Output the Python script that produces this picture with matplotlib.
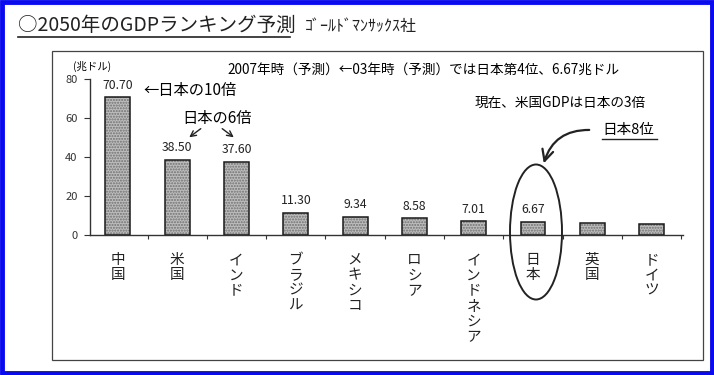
import numpy as np
import matplotlib
matplotlib.use('Agg')
import matplotlib.pyplot as plt
from matplotlib.patches import Ellipse, Rectangle
from matplotlib.lines import Line2D

plt.rcParams['font.family'] = ['Noto Sans CJK JP', 'DejaVu Sans']

# data (Goldman Sachs 2050 GDP projection, trillion USD)
countries = ['中国', '米国', 'インド', 'ブラジル', 'メキシコ', 'ロシア',
             'インドネシア', '日本', '英国', 'ドイツ']
gdp_2050 = [70.70, 38.50, 37.60, 11.30, 9.34, 8.58, 7.01, 6.67, 5.97, 5.71]
value_labels = ['70.70', '38.50', '37.60', '11.30', '9.34', '8.58',
                '7.01', '6.67', '', '']
yticks = [0, 20, 40, 60, 80]

W, H = 714, 375
def fx(x): return x / W          # pixel -> figure fraction
def fy(y): return 1 - y / H

fig = plt.figure(figsize=(W/100, H/100), dpi=100)
fig.patch.set_facecolor('white')

# blue outer frame + grey inner box
fig.add_artist(Rectangle((0.003, 0.005), 0.994, 0.99, transform=fig.transFigure,
                         fill=False, edgecolor='#0a0af0', linewidth=3.5))
fig.add_artist(Rectangle((fx(52), fy(360)), fx(703)-fx(52), fy(51)-fy(360),
                         transform=fig.transFigure, fill=False,
                         edgecolor='#444444', linewidth=0.9))

ax = fig.add_axes([fx(90), fy(235), fx(683)-fx(90), fy(79)-fy(235)])
x = np.arange(len(countries))
ax.bar(x, gdp_2050, width=0.42, color='#bdbdbd', hatch='......',
       edgecolor='#707070', linewidth=0)
ax.bar(x, gdp_2050, width=0.42, fill=False, edgecolor='#1a1a1a', linewidth=1.1)

for xi, v, lab in zip(x, gdp_2050, value_labels):
    ax.annotate(lab, (xi, v), xytext=(0, 4), textcoords='offset points',
                ha='center', va='bottom', fontsize=8.8, color='#222222')

ax.set_xlim(-0.47, 9.53)
ax.set_ylim(0, 80)
for s in ['top', 'right']:
    ax.spines[s].set_visible(False)
for s in ['left', 'bottom']:
    ax.spines[s].set_color('#333333')
    ax.spines[s].set_linewidth(1.0)

ax.set_yticks(yticks)
ax.tick_params(axis='y', direction='out', length=4, width=0.8, labelsize=8,
               pad=5, colors='#333333')
ax.set_xticks(x)
ax.set_xticklabels(['\n'.join(c) for c in countries])
ax.tick_params(axis='x', which='major', length=0, pad=13, labelsize=10.5,
               labelcolor='#222222')
ax.set_xticks(np.arange(0.5, 9.6, 1), minor=True)
ax.tick_params(axis='x', which='minor', direction='out', length=3, width=0.8,
               color='#333333')
for lbl in ax.get_xticklabels():
    lbl.set_linespacing(1.12)
ax.set_facecolor('none')

# title
fig.text(fx(18), fy(25), '○2050年のGDPランキング予測', ha='left', va='center',
         fontsize=14, color='#222222')
fig.add_artist(Line2D([fx(18), fx(290)], [fy(37), fy(37)], color='#222222', lw=1.2))
fig.text(fx(305), fy(27), 'ｺﾞｰﾙﾄﾞﾏﾝｻｯｸｽ社', ha='left', va='center',
         fontsize=11.5, color='#222222')

# annotations
fig.text(fx(92), fy(66), '(兆ドル)', ha='center', va='center', fontsize=7.5)
fig.text(fx(227), fy(70), '2007年時（予測）←03年時（予測）では日本第4位、6.67兆ドル',
         ha='left', va='center', fontsize=9.8)
fig.text(fx(143), fy(90), '←日本の10倍', ha='left', va='center', fontsize=11)
fig.text(fx(182), fy(119), '日本の6倍', ha='left', va='center', fontsize=11)
fig.text(fx(475), fy(103), '現在、米国GDPは日本の3倍', ha='left', va='center',
         fontsize=9.8)
fig.text(fx(602), fy(130), '日本8位', ha='left', va='center', fontsize=10.5)
fig.add_artist(Line2D([fx(602), fx(657)], [fy(139), fy(139)], color='#222222', lw=1.0))

arrow = dict(arrowstyle='->', color='#222222', lw=1.0)
fig.add_artist(matplotlib.text.Annotation('', xy=(fx(187), fy(139)),
               xytext=(fx(203), fy(127)), xycoords='figure fraction',
               arrowprops=arrow))
fig.add_artist(matplotlib.text.Annotation('', xy=(fx(236), fy(139)),
               xytext=(fx(220), fy(127)), xycoords='figure fraction',
               arrowprops=arrow))
fig.add_artist(matplotlib.text.Annotation('', xy=(fx(543), fy(166)),
               xytext=(fx(592), fy(130)), xycoords='figure fraction',
               arrowprops=dict(arrowstyle='->,head_length=0.8,head_width=0.4',
                               color='#222222', lw=1.6,
                               connectionstyle='arc3,rad=0.4')))

fig.add_artist(Ellipse((fx(536), fy(232)), 52/W, 135/H, transform=fig.transFigure,
                       fill=False, edgecolor='#222222', linewidth=1.4))

fig.savefig('out.png', dpi=100)
